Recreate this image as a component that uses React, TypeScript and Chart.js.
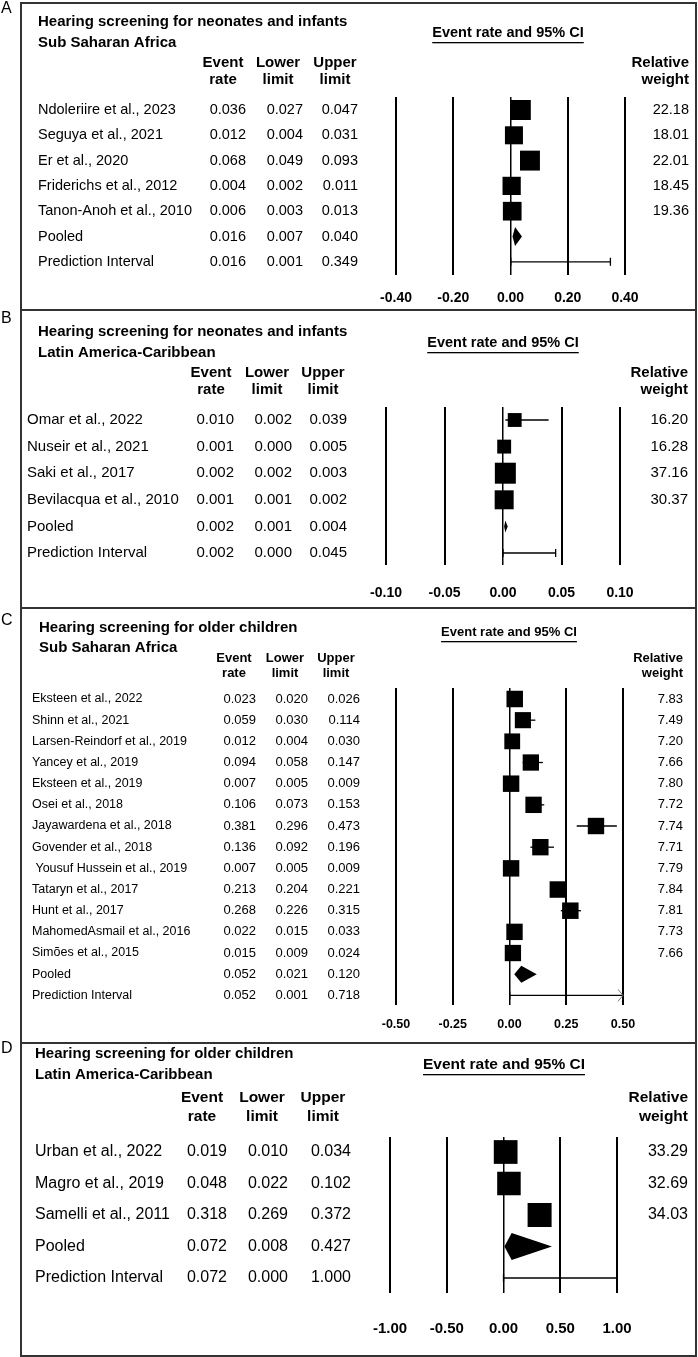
import React, { useEffect, useRef } from "react";
import { Chart, registerables } from "chart.js";

Chart.register(...registerables);

const FONT = "'Liberation Sans', Arial, Helvetica, sans-serif";

// ---------- shared labels ----------
const colHeaders = [["Event", "rate"], ["Lower", "limit"], ["Upper", "limit"]];
const weightHeader = ["Relative", "weight"];
const ciHeader = "Event rate and 95% CI";
const pooledLabel = "Pooled";
const predLabel = "Prediction Interval";

// ---------- Panel A ----------
const titleA = ["Hearing screening for neonates and infants", "Sub Saharan Africa"];
const studiesA = ["Ndoleriire et al., 2023", "Seguya et al., 2021", "Er et al., 2020", "Friderichs et al., 2012", "Tanon-Anoh et al., 2010"];
const rateA = [0.036, 0.012, 0.068, 0.004, 0.006];
const lowerA = [0.027, 0.004, 0.049, 0.002, 0.003];
const upperA = [0.047, 0.031, 0.093, 0.011, 0.013];
const weightA = [22.18, 18.01, 22.01, 18.45, 19.36];
const pooledA = [0.016, 0.007, 0.04];
const predA = [0.016, 0.001, 0.349];
const ticksA = [-0.4, -0.2, 0.0, 0.2, 0.4];

// ---------- Panel B ----------
const titleB = ["Hearing screening for neonates and infants", "Latin America-Caribbean"];
const studiesB = ["Omar et al., 2022", "Nuseir et al., 2021", "Saki et al., 2017", "Bevilacqua et al., 2010"];
const rateB = [0.01, 0.001, 0.002, 0.001];
const lowerB = [0.002, 0.0, 0.002, 0.001];
const upperB = [0.039, 0.005, 0.003, 0.002];
const weightB = [16.2, 16.28, 37.16, 30.37];
const pooledB = [0.002, 0.001, 0.004];
const predB = [0.002, 0.0, 0.045];
const ticksB = [-0.1, -0.05, 0.0, 0.05, 0.1];

// ---------- Panel C ----------
const titleC = ["Hearing screening for older children", "Sub Saharan Africa"];
const studiesC = [
  "Eksteen et al., 2022", "Shinn et al., 2021", "Larsen-Reindorf et al., 2019", "Yancey et al., 2019",
  "Eksteen et al., 2019", "Osei et al., 2018", "Jayawardena et al., 2018", "Govender et al., 2018",
  " Yousuf Hussein et al., 2019", "Tataryn et al., 2017", "Hunt et al., 2017", "MahomedAsmail et al., 2016",
  "Simões et al., 2015",
];
const rateC = [0.023, 0.059, 0.012, 0.094, 0.007, 0.106, 0.381, 0.136, 0.007, 0.213, 0.268, 0.022, 0.015];
const lowerC = [0.02, 0.03, 0.004, 0.058, 0.005, 0.073, 0.296, 0.092, 0.005, 0.204, 0.226, 0.015, 0.009];
const upperC = [0.026, 0.114, 0.03, 0.147, 0.009, 0.153, 0.473, 0.196, 0.009, 0.221, 0.315, 0.033, 0.024];
const weightC = [7.83, 7.49, 7.2, 7.66, 7.8, 7.72, 7.74, 7.71, 7.79, 7.84, 7.81, 7.73, 7.66];
const pooledC = [0.052, 0.021, 0.12];
const predC = [0.052, 0.001, 0.718];
const ticksC = [-0.5, -0.25, 0.0, 0.25, 0.5];

// ---------- Panel D ----------
const titleD = ["Hearing screening for older children", "Latin America-Caribbean"];
const studiesD = ["Urban et al., 2022", "Magro et al., 2019", "Samelli et al., 2011"];
const rateD = [0.019, 0.048, 0.318];
const lowerD = [0.01, 0.022, 0.269];
const upperD = [0.034, 0.102, 0.372];
const weightD = [33.29, 32.69, 34.03];
const pooledD = [0.072, 0.008, 0.427];
const predD = [0.072, 0.0, 1.0];
const ticksD = [-1.0, -0.5, 0.0, 0.5, 1.0];

// ---------- layout (page coordinates) ----------
const PANEL_LEFT = 20;
const PANEL_W = 677;
const PAGE_H = 1357;

type Layout = {
  top: number; bottom: number;
  titleX: number; titleY: number[]; titleFont: number;
  ciX: number; ciY: number; ciUnderY: number; ciFont: number;
  headY: number[]; headFont: number; headX: number[]; valRight: number[]; weightRight: number;
  nameX: number; rowY0: number; rowSp: number; dataFont: number; nameFont: number;
  plotLeft: number; plotRight: number; plotTop: number; plotBottom: number;
  tickY: number; tickFont: number;
  boxMax: number; diamondH: number; capH: number;
};

type PanelDef = {
  key: string; letter: string; letterY: number;
  title: string[]; studies: string[]; rate: number[]; lower: number[]; upper: number[]; weight: number[];
  pooled: number[]; pred: number[]; ticks: number[]; layout: Layout;
};

const panels: PanelDef[] = [
  {
    key: "A", letter: "A", letterY: 0, title: titleA, studies: studiesA, rate: rateA, lower: lowerA, upper: upperA,
    weight: weightA, pooled: pooledA, pred: predA, ticks: ticksA,
    layout: {
      top: 2, bottom: 309, titleX: 38, titleY: [22, 43], titleFont: 15,
      ciX: 508, ciY: 33, ciUnderY: 42, ciFont: 14.5,
      headY: [63, 80], headFont: 15, headX: [223, 278, 335], valRight: [246, 303, 358], weightRight: 689,
      nameX: 38, rowY0: 110, rowSp: 25.3, dataFont: 14.5, nameFont: 14.5,
      plotLeft: 396, plotRight: 625, plotTop: 97, plotBottom: 275, tickY: 298, tickFont: 14,
      boxMax: 20, diamondH: 19, capH: 8,
    },
  },
  {
    key: "B", letter: "B", letterY: 310, title: titleB, studies: studiesB, rate: rateB, lower: lowerB, upper: upperB,
    weight: weightB, pooled: pooledB, pred: predB, ticks: ticksB,
    layout: {
      top: 309, bottom: 607, titleX: 38, titleY: [332, 353], titleFont: 15,
      ciX: 503, ciY: 343, ciUnderY: 352, ciFont: 14.5,
      headY: [373, 390], headFont: 15, headX: [211, 267, 323], valRight: [234, 292, 347], weightRight: 688,
      nameX: 27, rowY0: 420, rowSp: 26.6, dataFont: 15, nameFont: 15,
      plotLeft: 386, plotRight: 620, plotTop: 407, plotBottom: 565, tickY: 593, tickFont: 14,
      boxMax: 21, diamondH: 12, capH: 8,
    },
  },
  {
    key: "C", letter: "C", letterY: 612, title: titleC, studies: studiesC, rate: rateC, lower: lowerC, upper: upperC,
    weight: weightC, pooled: pooledC, pred: predC, ticks: ticksC,
    layout: {
      top: 607, bottom: 1042, titleX: 39, titleY: [628, 648], titleFont: 15,
      ciX: 509, ciY: 632, ciUnderY: 641, ciFont: 13,
      headY: [658, 673], headFont: 13, headX: [234, 285, 336], valRight: [256, 308, 360], weightRight: 683,
      nameX: 32, rowY0: 699, rowSp: 21.17, dataFont: 13, nameFont: 12.5,
      plotLeft: 396, plotRight: 623, plotTop: 688, plotBottom: 1005, tickY: 1025, tickFont: 12.5,
      boxMax: 16.5, diamondH: 17, capH: 8,
    },
  },
  {
    key: "D", letter: "D", letterY: 1040, title: titleD, studies: studiesD, rate: rateD, lower: lowerD, upper: upperD,
    weight: weightD, pooled: pooledD, pred: predD, ticks: ticksD,
    layout: {
      top: 1042, bottom: 1355, titleX: 35, titleY: [1054, 1075], titleFont: 15,
      ciX: 504, ciY: 1065, ciUnderY: 1074, ciFont: 15.5,
      headY: [1098, 1117], headFont: 15.5, headX: [202, 262, 323], valRight: [227, 288, 351], weightRight: 688,
      nameX: 35, rowY0: 1152, rowSp: 31.5, dataFont: 16, nameFont: 16,
      plotLeft: 390, plotRight: 617, plotTop: 1137, plotBottom: 1293, tickY: 1329, tickFont: 15,
      boxMax: 24, diamondH: 27, capH: 8,
    },
  },
];

function font(size: number, bold = false) {
  return `${bold ? "bold " : ""}${size}px ${FONT}`;
}

function makePlugin(p: PanelDef) {
  const L = p.layout;
  const ox = PANEL_LEFT;
  const oy = L.top;
  const n = p.studies.length;
  return {
    id: "forest" + p.key,
    afterDatasetsDraw(chart: any) {
      const ctx = chart.ctx;
      const xs = chart.scales.x;
      const ys = chart.scales.y;
      ctx.save();
      // pooled diamond
      const [est, lo, hi] = p.pooled;
      const yp = ys.getPixelForValue(n);
      const h = L.diamondH / 2;
      ctx.fillStyle = "#000";
      ctx.beginPath();
      ctx.moveTo(xs.getPixelForValue(lo), yp);
      ctx.lineTo(xs.getPixelForValue(est), yp - h);
      ctx.lineTo(xs.getPixelForValue(hi), yp);
      ctx.lineTo(xs.getPixelForValue(est), yp + h);
      ctx.closePath();
      ctx.fill();
      // prediction interval caps / arrow
      const ypi = ys.getPixelForValue(n + 1);
      const [, plo, phi] = p.pred;
      ctx.strokeStyle = "#000";
      ctx.lineWidth = 1.3;
      for (const v of [plo, phi]) {
        if (v >= xs.min && v <= xs.max) {
          const x = xs.getPixelForValue(v);
          ctx.beginPath();
          ctx.moveTo(x, ypi - L.capH / 2);
          ctx.lineTo(x, ypi + L.capH / 2);
          ctx.stroke();
        }
      }
      if (phi > xs.max) {
        const x = xs.getPixelForValue(xs.max);
        ctx.strokeStyle = "#777";
        ctx.lineWidth = 1;
        ctx.beginPath();
        ctx.moveTo(x - 5, ypi - 6);
        ctx.lineTo(x, ypi);
        ctx.lineTo(x - 5, ypi + 6);
        ctx.stroke();
      }
      ctx.restore();
    },
    afterDraw(chart: any) {
      const ctx = chart.ctx;
      const ys = chart.scales.y;
      ctx.save();
      ctx.fillStyle = "#000";
      ctx.textBaseline = "middle";
      // titles
      ctx.textAlign = "left";
      ctx.font = font(L.titleFont, true);
      p.title.forEach((t, i) => ctx.fillText(t, L.titleX - ox, L.titleY[i] - oy));
      // CI header, underlined
      ctx.font = font(L.ciFont, true);
      ctx.textAlign = "center";
      ctx.fillText(ciHeader, L.ciX - ox, L.ciY - oy);
      const w = ctx.measureText(ciHeader).width;
      ctx.fillRect(L.ciX - ox - w / 2, L.ciUnderY - oy, w, 1.3);
      // column headers
      ctx.font = font(L.headFont, true);
      colHeaders.forEach((hd, c) => {
        hd.forEach((t, r) => ctx.fillText(t, L.headX[c] - ox, L.headY[r] - oy));
      });
      ctx.textAlign = "right";
      weightHeader.forEach((t, r) => ctx.fillText(t, L.weightRight - ox, L.headY[r] - oy));
      // rows
      const rows: { name: string; vals: number[]; weight?: number }[] = p.studies.map((s, i) => ({
        name: s, vals: [p.rate[i], p.lower[i], p.upper[i]], weight: p.weight[i],
      }));
      rows.push({ name: pooledLabel, vals: p.pooled });
      rows.push({ name: predLabel, vals: p.pred });
      rows.forEach((r, i) => {
        const y = ys.getPixelForValue(i);
        ctx.textAlign = "left";
        ctx.font = font(L.nameFont);
        ctx.fillText(r.name, L.nameX - ox, y);
        ctx.font = font(L.dataFont);
        ctx.textAlign = "right";
        r.vals.forEach((v, c) => ctx.fillText(v.toFixed(3), L.valRight[c] - ox, y));
        if (r.weight !== undefined) ctx.fillText(r.weight.toFixed(2), L.weightRight - ox, y);
      });
      ctx.restore();
    },
  };
}

function ForestPanel({ p, height }: { p: PanelDef; height: number }) {
  const ref = useRef<HTMLCanvasElement>(null);
  useEffect(() => {
    const L = p.layout;
    const ox = PANEL_LEFT;
    const oy = L.top;
    const n = p.studies.length;
    const W = PANEL_W;
    const H = height;
    const plotTop = L.plotTop - oy;
    const plotBottom = L.plotBottom - oy;
    const y0 = L.rowY0 - oy;
    const yMin = -(y0 - plotTop) / L.rowSp;
    const yMax = yMin + (plotBottom - plotTop) / L.rowSp;
    const axisH = H - plotBottom;
    const tickPad = L.tickY - oy - plotBottom - 0.6 * L.tickFont;
    const xMin = p.ticks[0];
    const xMax = p.ticks[p.ticks.length - 1];
    const wMax = Math.max(...p.weight);
    const sizes = p.weight.map((w) => L.boxMax * Math.sqrt(w / wMax));

    const datasets: any[] = [
      {
        type: "scatter",
        data: p.rate.map((r, i) => ({ x: r, y: i })),
        pointStyle: "rect",
        pointRadius: sizes.map((s) => s / Math.SQRT2),
        pointHoverRadius: sizes.map((s) => s / Math.SQRT2),
        backgroundColor: "#000",
        borderColor: "#000",
        borderWidth: 0,
        order: 0,
        clip: false,
      },
    ];
    p.studies.forEach((_, i) => {
      datasets.push({
        type: "line",
        data: [{ x: p.lower[i], y: i }, { x: p.upper[i], y: i }],
        borderColor: "#000",
        borderWidth: 1.3,
        pointRadius: 0,
        fill: false,
        order: 1,
      });
    });
    datasets.push({
      type: "line",
      data: [{ x: p.pred[1], y: n + 1 }, { x: Math.min(p.pred[2], xMax), y: n + 1 }],
      borderColor: "#000",
      borderWidth: 1.3,
      pointRadius: 0,
      fill: false,
      order: 1,
    });

    const chart = new Chart(ref.current as HTMLCanvasElement, {
      type: "scatter",
      data: { datasets },
      options: {
        animation: false,
        responsive: false,
        maintainAspectRatio: false,
        events: [],
        layout: {
          padding: { left: L.plotLeft - ox, right: W - (L.plotRight - ox), top: plotTop, bottom: 0 },
        },
        plugins: { legend: { display: false }, tooltip: { enabled: false }, title: { display: false } },
        scales: {
          x: {
            type: "linear",
            position: "bottom",
            min: xMin,
            max: xMax,
            afterBuildTicks: (scale: any) => {
              scale.ticks = p.ticks.map((v) => ({ value: v }));
            },
            afterFit: (scale: any) => {
              scale.height = axisH;
            },
            ticks: {
              autoSkip: false,
              maxRotation: 0,
              padding: tickPad,
              color: "#000",
              font: { family: FONT, size: L.tickFont, weight: "bold" },
              callback: (v: any) => Number(v).toFixed(2),
            },
            grid: {
              drawTicks: false,
              color: "#000",
              lineWidth: (c: any) => (c.tick && Math.abs(c.tick.value) < 1e-9 ? 1.5 : 2),
            },
            border: { display: false },
          },
          y: {
            type: "linear",
            display: false,
            reverse: true,
            min: yMin,
            max: yMax,
            grid: { display: false },
          },
        },
      } as any,
      plugins: [makePlugin(p)],
    });
    return () => chart.destroy();
  }, [p, height]);

  return (
    <canvas
      ref={ref}
      width={PANEL_W}
      height={height}
      style={{ position: "absolute", left: PANEL_LEFT, top: p.layout.top, width: PANEL_W, height, display: "block" }}
    />
  );
}

export default function App() {
  return (
    <div style={{ position: "absolute", left: 0, top: 0, width: 698, height: PAGE_H, background: "#fff", overflow: "hidden" }}>
      {panels.map((p) => {
        const h = p.layout.bottom - p.layout.top + 2;
        return (
          <React.Fragment key={p.key}>
            <ForestPanel p={p} height={h} />
            <div
              style={{
                position: "absolute",
                left: PANEL_LEFT,
                top: p.layout.top,
                width: PANEL_W,
                height: h,
                border: "2px solid #333",
                boxSizing: "border-box",
                pointerEvents: "none",
              }}
            />
            <div
              style={{
                position: "absolute",
                left: 1,
                top: p.letterY,
                fontFamily: FONT,
                fontSize: 16,
                lineHeight: "16px",
                color: "#000",
              }}
            >
              {p.letter}
            </div>
          </React.Fragment>
        );
      })}
    </div>
  );
}
